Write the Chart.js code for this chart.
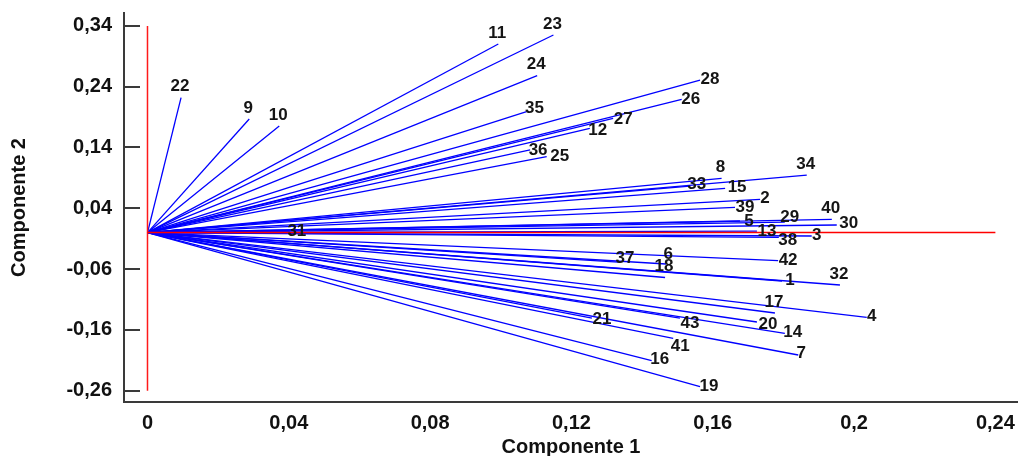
<!DOCTYPE html>
<html>
<head>
<meta charset="utf-8">
<script src="https://cdn.jsdelivr.net/npm/chart.js@4"></script>
<style>
  body { margin: 0; background: #fff; }
  #wrap { width: 1018px; height: 456px; }
</style>
</head>
<body>
<div id="wrap"><canvas id="biplot" width="1018" height="456"></canvas></div>
<script>
// loadings
const names = ["1","2","3","4","5","6","7","8","9","10","11","12","13","14","15","16","17","18","19","20","21","22",
               "23","24","25","26","27","28","29","30","31","32","33","34","35","36","37","38","39","40","41","42","43"];
const comp1 = [0.1796, 0.1734, 0.1880, 0.2036, 0.1677, 0.1468, 0.1842, 0.1625, 0.0288, 0.0373, 0.0993,
               0.1252, 0.1725, 0.1804, 0.1635, 0.1427, 0.1776, 0.1465, 0.1564, 0.1725, 0.1258, 0.0095,
               0.1149, 0.1103, 0.1130, 0.1512, 0.1318, 0.1564, 0.1804, 0.1951, 0.0403, 0.1960, 0.1535,
               0.1866, 0.1073, 0.1083, 0.1332, 0.1787, 0.1663, 0.1937, 0.1488, 0.1785, 0.1507];
const comp2 = [-0.0796, 0.0548, -0.0056, -0.1393, 0.0191, -0.0516, -0.2013, 0.0893, 0.1868, 0.1753, 0.3102,
               0.1715, 0.0026, -0.1656, 0.0729, -0.2107, -0.1322, -0.0738, -0.2535, -0.1470, -0.1405, 0.2219,
               0.3250, 0.2581, 0.1248, 0.2192, 0.1880, 0.2510, 0.0174, 0.0125, 0.0010, -0.0862, 0.0766,
               0.0947, 0.1988, 0.1359, -0.0484, -0.0080, 0.0416, 0.0219, -0.1738, -0.0462, -0.1405];
const xTicks = [0, 0.04, 0.08, 0.12, 0.16, 0.2, 0.24];
const yTicks = [-0.26, -0.16, -0.06, 0.04, 0.14, 0.24, 0.34];

// where each number sits next to its line end (px), default is centred above
const labelShift = {
  "35":[8,-3], "28":[10,-1], "26":[9,0], "27":[10,1], "12":[8,2], "36":[8,0], "25":[13,0],
  "33":[7,-2], "15":[12,-1], "2":[5,-1], "39":[10,0], "5":[9,0], "29":[5,-5], "30":[12,-2],
  "13":[10,0], "38":[9,3], "3":[5,-1], "31":[7,-1], "37":[7,-4], "6":[2,-10], "42":[10,0],
  "1":[8,-1], "4":[5,-1], "20":[11,2], "14":[8,-1], "7":[3,-2], "19":[9,0], "16":[8,-1],
  "41":[7,8], "43":[10,5], "21":[10,1]
};

const FONT = '"Liberation Sans", Arial, sans-serif';
const fmt = v => String(+(+v).toFixed(2)).replace(".", ",");

const datasets = [
  { data: [{x: 0, y: 0}, {x: xTicks[xTicks.length - 1], y: 0}], borderColor: "#ff0000", borderWidth: 1.5 },
  { data: [{x: 0, y: yTicks[0]}, {x: 0, y: yTicks[yTicks.length - 1]}], borderColor: "#ff1a1a", borderWidth: 1.5 }
];
names.forEach((n, i) => {
  datasets.push({ data: [{x: 0, y: 0}, {x: comp1[i], y: comp2[i]}], borderColor: "#0000ff", borderWidth: 1.3 });
});
datasets.forEach(d => { d.showLine = true; d.pointRadius = 0; d.pointHoverRadius = 0; });

// inward tick marks, numbers and axis titles
const extras = {
  id: "extras",
  afterDatasetsDraw(chart) {
    const ctx = chart.ctx, xs = chart.scales.x, ys = chart.scales.y;
    ctx.save();
    ctx.fillStyle = "#151515";
    ctx.font = "bold 17px " + FONT;
    ctx.textAlign = "center";
    ctx.textBaseline = "middle";
    names.forEach((n, i) => {
      const s = labelShift[n] || [-1, -11];
      ctx.fillText(n, xs.getPixelForValue(comp1[i]) + s[0], ys.getPixelForValue(comp2[i]) + s[1]);
    });
    ctx.restore();
  },
  afterDraw(chart) {
    const ctx = chart.ctx, ys = chart.scales.y, area = chart.chartArea;
    ctx.save();
    ctx.strokeStyle = "#3a3a3a";
    ctx.lineWidth = 2;
    yTicks.forEach(v => {
      const py = Math.round(ys.getPixelForValue(v));
      ctx.beginPath();
      ctx.moveTo(area.left, py);
      ctx.lineTo(area.left + 16, py);
      ctx.stroke();
    });
    ctx.fillStyle = "#111";
    ctx.font = "bold 20px " + FONT;
    ctx.textAlign = "center";
    ctx.textBaseline = "middle";
    ctx.fillText("Componente 1", (area.left + area.right) / 2, 447);
    ctx.translate(19, (area.top + area.bottom) / 2);
    ctx.rotate(-Math.PI / 2);
    ctx.fillText("Componente 2", 0, 0);
    ctx.restore();
  }
};

new Chart(document.getElementById("biplot"), {
  type: "scatter",
  data: { datasets: datasets },
  options: {
    responsive: false,
    devicePixelRatio: 1,
    animation: false,
    events: [],
    layout: { padding: { top: 13, right: 0, left: 0, bottom: 0 } },
    plugins: { legend: { display: false }, tooltip: { enabled: false } },
    scales: {
      x: {
        type: "linear",
        min: -0.00665,
        max: 0.2464,
        afterBuildTicks: s => { s.ticks = xTicks.map(v => ({ value: v })); },
        afterFit: s => { s.height = 54; s.paddingLeft = 0; s.paddingRight = 0; },
        grid: { display: false, drawTicks: false },
        border: { display: true, color: "#3a3a3a", width: 2 },
        ticks: { callback: fmt, color: "#111", padding: 9, maxRotation: 0,
                 font: { family: FONT, size: 20, weight: "bold" } }
      },
      y: {
        type: "linear",
        min: -0.2786,
        max: 0.3612,
        afterBuildTicks: s => { s.ticks = yTicks.map(v => ({ value: v })); },
        afterFit: s => { s.width = 124; s.paddingTop = 0; s.paddingBottom = 0; },
        grid: { display: false, drawTicks: false },
        border: { display: true, color: "#3a3a3a", width: 2 },
        ticks: { callback: fmt, color: "#111", padding: 12,
                 font: { family: FONT, size: 20, weight: "bold" } }
      }
    }
  },
  plugins: [extras]
});
</script>
</body>
</html>
